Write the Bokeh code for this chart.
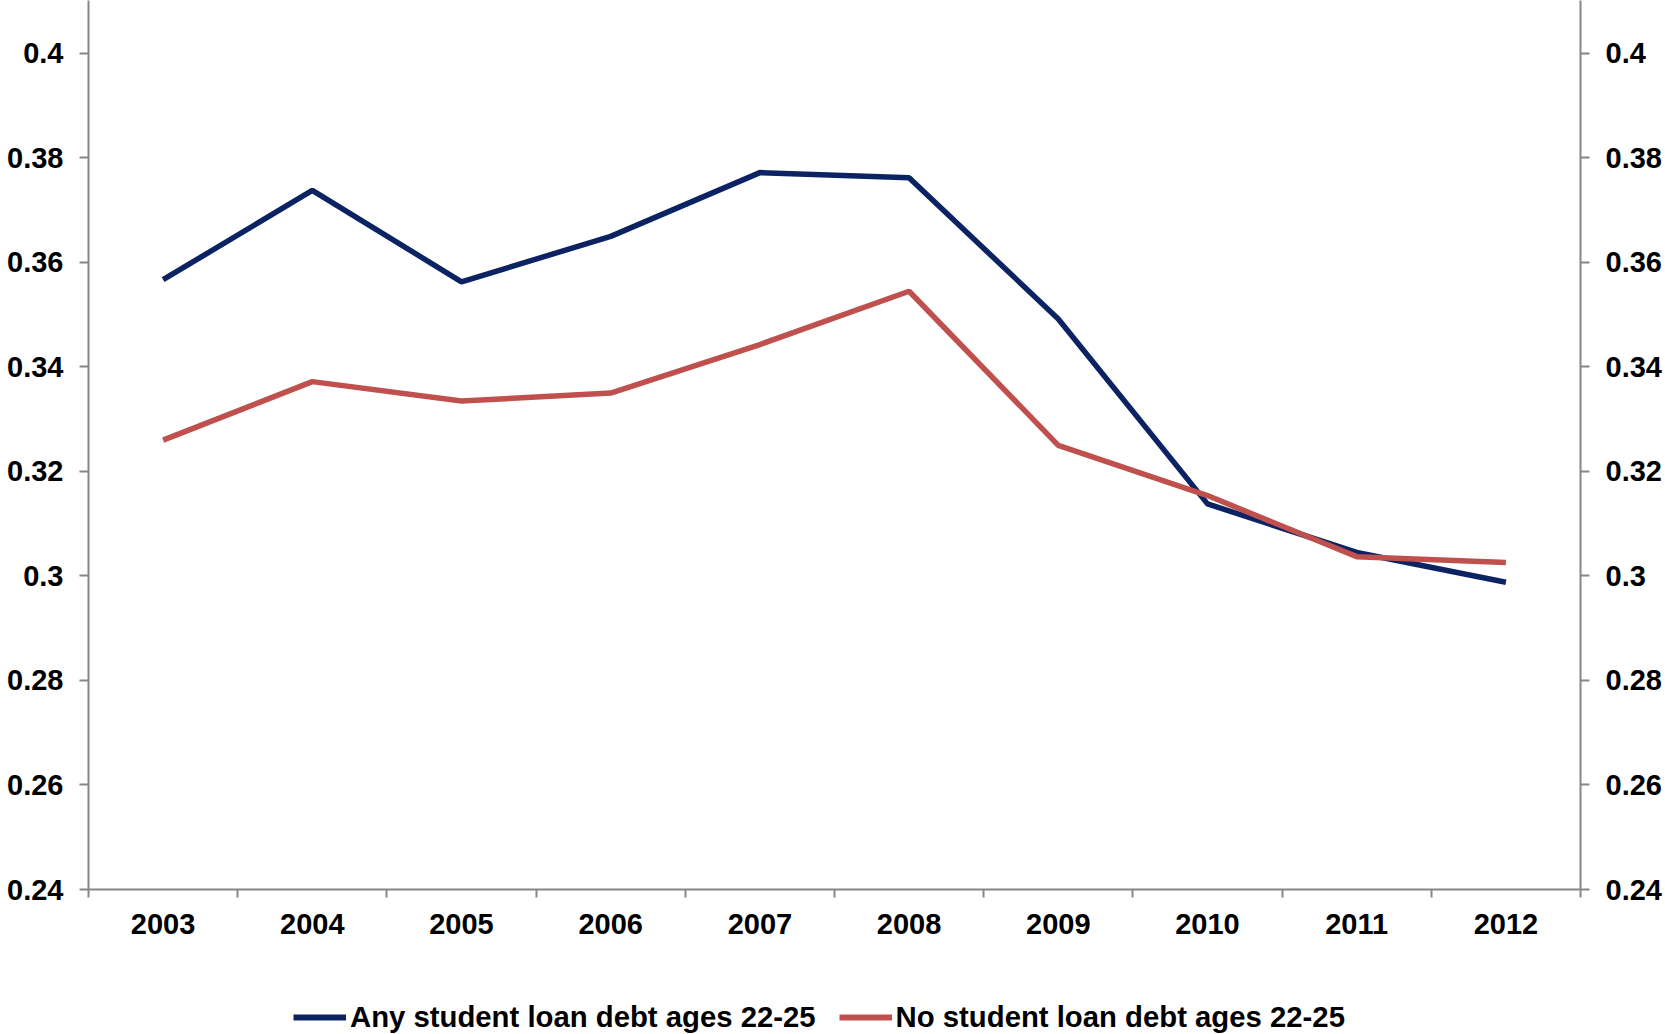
from bokeh.plotting import figure
from bokeh.layouts import column
from bokeh.models import (FixedTicker, LinearAxis, Legend, LegendItem, Range1d)
from bokeh.embed import file_html
from bokeh.resources import INLINE

years = [2003, 2004, 2005, 2006, 2007, 2008, 2009, 2010, 2011, 2012]
any_debt = [0.3567, 0.3738, 0.3563, 0.3650, 0.3772, 0.3762, 0.3492, 0.3138, 0.3045, 0.2988]
no_debt = [0.3260, 0.3372, 0.3335, 0.3350, 0.3443, 0.3545, 0.3250, 0.3154, 0.3037, 0.3026]
y_ticks = [0.24, 0.26, 0.28, 0.30, 0.32, 0.34, 0.36, 0.38, 0.40]
y_tick_labels = ["0.24", "0.26", "0.28", "0.3", "0.32", "0.34", "0.36", "0.38", "0.4"]
series_names = ["Any student loan debt ages 22-25", "No student loan debt ages 22-25"]
series_colors = ["#0B2363", "#C0504D"]

FONT = "Liberation Sans"
FS = "29px"
AXIS_COLOR = "#868686"

p = figure(width=1665, height=960, output_backend="svg", toolbar_location=None,
           x_range=Range1d(years[0] - 0.5, years[-1] + 0.5),
           y_range=Range1d(0.24, 0.41014),
           min_border_left=88, min_border_right=85, min_border_top=0, min_border_bottom=71,
           y_axis_location="left")
p.outline_line_color = None
p.xgrid.visible = False
p.ygrid.visible = False
p.background_fill_color = "white"
p.border_fill_color = "white"

p.line(years, any_debt, line_color=series_colors[0], line_width=5.5)
p.line(years, no_debt, line_color=series_colors[1], line_width=5.5)

overrides = {t: s for t, s in zip(y_ticks, y_tick_labels)}

def style_y(ax, standoff):
    ax.ticker = FixedTicker(ticks=y_ticks)
    ax.major_label_overrides = overrides
    ax.axis_line_color = AXIS_COLOR
    ax.axis_line_width = 2
    ax.major_tick_line_color = AXIS_COLOR
    ax.major_tick_line_width = 2
    ax.major_tick_in = 0
    ax.major_tick_out = 9
    ax.minor_tick_line_color = None
    ax.major_label_standoff = standoff
    ax.major_label_text_font = FONT
    ax.major_label_text_font_style = "bold"
    ax.major_label_text_font_size = FS
    ax.major_label_text_color = "black"

style_y(p.yaxis[0], 16)
right_axis = LinearAxis()
style_y(right_axis, 16)
p.add_layout(right_axis, "right")

xa = p.xaxis[0]
xa.ticker = FixedTicker(ticks=years, minor_ticks=[y - 0.5 for y in years] + [years[-1] + 0.5])
xa.axis_line_color = AXIS_COLOR
xa.axis_line_width = 2
xa.major_tick_line_color = None
xa.major_tick_in = 0
xa.major_tick_out = 0
xa.minor_tick_line_color = AXIS_COLOR
xa.minor_tick_line_width = 2
xa.minor_tick_in = 0
xa.minor_tick_out = 8
xa.major_label_standoff = 16
xa.major_label_text_font = FONT
xa.major_label_text_font_style = "bold"
xa.major_label_text_font_size = FS
xa.major_label_text_color = "black"

# legend strip below the chart (series drawn outside its visible range, used only for swatches)
lg = figure(width=1665, height=74, output_backend="svg", toolbar_location=None,
            x_axis_location=None, y_axis_location=None,
            x_range=Range1d(0, 1), y_range=Range1d(0, 1),
            min_border_left=0, min_border_right=0, min_border_top=0, min_border_bottom=0)
lg.xgrid.visible = False
lg.ygrid.visible = False
lg.outline_line_color = None
lg.background_fill_color = "white"
lg.border_fill_color = "white"
swatches = [lg.line(years, vals, line_color=c, line_width=6)
            for vals, c in zip([any_debt, no_debt], series_colors)]

legend = Legend(items=[LegendItem(label=n, renderers=[r]) for n, r in zip(series_names, swatches)],
                orientation="horizontal", location=(205, 0),
                glyph_width=53, glyph_height=30, label_height=30,
                label_standoff=4, spacing=23, padding=0, margin=0,
                border_line_color=None, background_fill_alpha=0,
                label_text_font=FONT, label_text_font_style="bold",
                label_text_font_size="29.3px", label_text_color="black")
lg.add_layout(legend, "center")

layout = column(p, lg, spacing=0)
open("out.html", "w").write(file_html(layout, INLINE))
